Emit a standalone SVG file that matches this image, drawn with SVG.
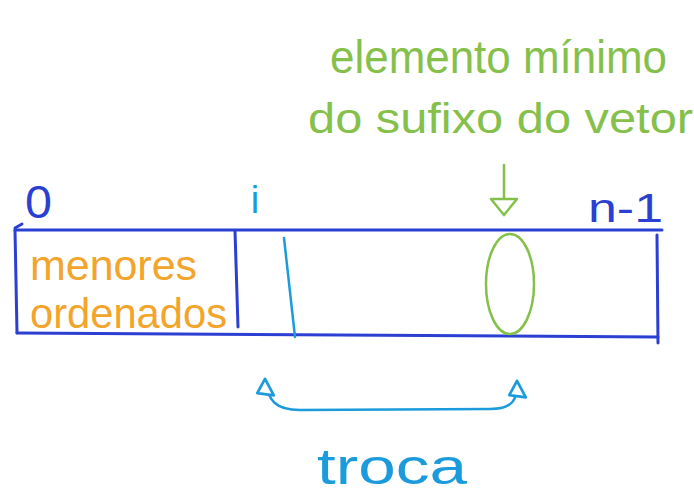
<svg xmlns="http://www.w3.org/2000/svg" width="694" height="495" viewBox="0 0 694 495">
  <style>
    .hand { font-family: "Liberation Sans", "DejaVu Sans", sans-serif; }
    .dark { fill: #2b3fd3; }
    .light { fill: #1c9bdc; }
    .green { fill: #84c04a; }
    .orange { fill: #f3a42a; }
    .sdark { stroke: #2b3fd3; stroke-width: 3; fill: none; stroke-linecap: round; }
    .slight { stroke: #1c9bdc; stroke-width: 2.5; fill: none; stroke-linecap: round; }
    .sgreen { stroke: #84c04a; stroke-width: 2.5; fill: none; stroke-linecap: round; }
  </style>
  <defs>
    <marker id="headGreen" viewBox="0 0 30 20" refX="15" refY="18" markerWidth="30" markerHeight="20" markerUnits="userSpaceOnUse" orient="0">
      <path d="M2 2 L28 2 L15 18 Z" fill="#fff" stroke="#84c04a" stroke-width="2.5" stroke-linejoin="round"/>
    </marker>
    <marker id="headBlue" viewBox="0 0 20 20" refX="10" refY="3" markerWidth="22" markerHeight="22" markerUnits="userSpaceOnUse" orient="0">
      <path d="M10 2 L18 17 L3 15 Z" fill="#fff" stroke="#1c9bdc" stroke-width="2.5" stroke-linejoin="round"/>
    </marker>
  </defs>
  <rect width="694" height="495" fill="#fff"/>

  <g id="caption">
    <text class="hand green" x="330" y="73" font-size="46" textLength="337" lengthAdjust="spacingAndGlyphs">elemento mínimo</text>
    <text class="hand green" x="308" y="133" font-size="42" textLength="385" lengthAdjust="spacingAndGlyphs">do sufixo do vetor</text>
  </g>

  <g id="index-0">
    <text class="hand dark" x="25" y="218" font-size="46" textLength="27" lengthAdjust="spacingAndGlyphs">0</text>
  </g>
  <g id="index-i">
    <text class="hand light" x="255" y="213" font-size="38" text-anchor="middle">i</text>
  </g>
  <g id="index-n1">
    <text class="hand dark" x="588" y="222" font-size="40" textLength="75" lengthAdjust="spacingAndGlyphs">n-1</text>
  </g>

  <g id="array">
    <path class="sdark" d="M15 230 L662 230"/>
    <path class="sdark" d="M15 228 L22 224"/>
    <path class="sdark" d="M15 230 L17 333"/>
    <path class="sdark" d="M17 333 L658 337"/>
    <path class="sdark" d="M657 235 L658 343"/>
  </g>

  <g id="sorted-prefix">
    <path class="sdark" d="M235 231 L238 327"/>
    <text class="hand orange" x="30" y="280" font-size="42" textLength="167" lengthAdjust="spacingAndGlyphs">menores</text>
    <text class="hand orange" x="30" y="328" font-size="42" textLength="197" lengthAdjust="spacingAndGlyphs">ordenados</text>
  </g>

  <g id="position-i">
    <path class="slight" d="M284 238 L295 337"/>
  </g>

  <g id="minimum">
    <ellipse class="sgreen" cx="510" cy="284" rx="24" ry="50"/>
  </g>

  <g id="connectors">
    <path class="sgreen" d="M504 165 L504 215" marker-end="url(#headGreen)"/>
    <path class="slight" d="M265 380 C268 400 275 410 300 410 L490 409 C512 409 518 400 517 382" marker-start="url(#headBlue)" marker-end="url(#headBlue)"/>
  </g>

  <g id="swap-label">
    <text class="hand light" x="317" y="484" font-size="50" textLength="150" lengthAdjust="spacingAndGlyphs">troca</text>
  </g>
</svg>
